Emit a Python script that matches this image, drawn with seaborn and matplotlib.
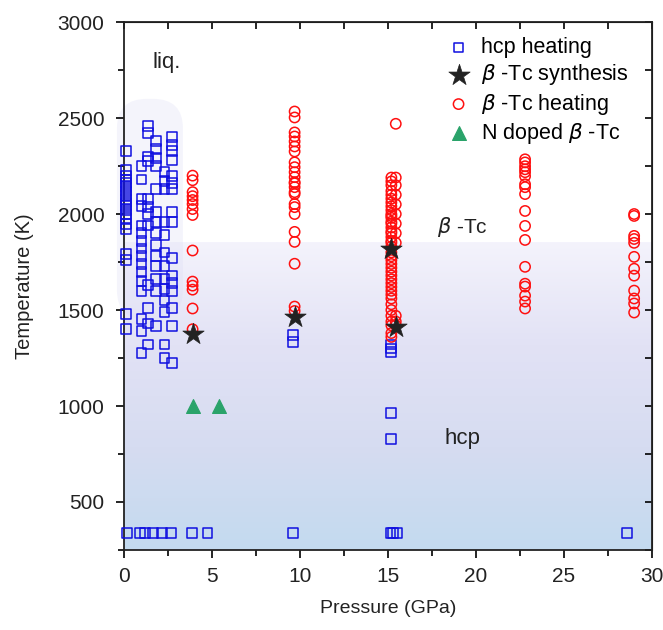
import numpy as np
import pandas as pd
import matplotlib
matplotlib.use("Agg")
import matplotlib.pyplot as plt
from matplotlib.colors import LinearSegmentedColormap
from matplotlib.patches import FancyBboxPatch
from matplotlib.ticker import MultipleLocator
import seaborn as sns

# hcp heating (blue open squares)
hcp_p = ([0.1] * 20 + [1.0] * 16 + [1.35] * 12 + [1.8] * 14 + [2.3] * 13 + [2.75] * 16
         + [9.6, 9.6, 15.2, 15.2, 15.2, 15.2, 15.2]
         + [0.15, 0.9, 1.2, 1.65, 2.15, 2.65, 3.85, 4.75, 9.6, 15.15, 15.3, 15.5, 28.6])
hcp_t = ([2330, 2230, 2200, 2180, 2160, 2140, 2120, 2100, 2080, 2060, 2040, 2020, 2000, 1980,
          1950, 1920, 1790, 1760, 1480, 1400]
         + [2250, 2180, 2080, 2040, 1940, 1900, 1860, 1820, 1780, 1740, 1700, 1650, 1600, 1455, 1390, 1275]
         + [2460, 2420, 2300, 2275, 2080, 2035, 2000, 1940, 1630, 1510, 1430, 1320]
         + [2380, 2340, 2290, 2250, 2130, 2010, 1960, 1900, 1840, 1780, 1730, 1660, 1600, 1415]
         + [2220, 2170, 2130, 1960, 1890, 1800, 1730, 1660, 1610, 1550, 1490, 1320, 1250]
         + [2400, 2360, 2330, 2280, 2200, 2160, 2130, 2010, 1960, 1770, 1680, 1640, 1600, 1510, 1415, 1225]
         + [1370, 1335, 1320, 1300, 1280, 965, 830]
         + [340] * 13)

# beta-Tc synthesis (black stars)
syn_p = [3.9, 9.7, 15.2, 15.45]
syn_t = [1375, 1465, 1820, 1410]

# beta-Tc heating (red open circles)
bt_p = ([3.9] * 14 + [9.7] * 24 + [15.2] * 41 + [15.45] * 12 + [22.8] * 18 + [29.0] * 12)
bt_t = ([2200, 2176, 2114, 2093, 2073, 2052, 2026, 1995, 1810, 1648, 1627, 1606, 1508, 1400]
        + [2534, 2503, 2425, 2404, 2378, 2352, 2326, 2269, 2244, 2218, 2192, 2166, 2140, 2114, 2104,
           2052, 2036, 2000, 1907, 1855, 1741, 1518, 1495, 2160]
        + [2190, 2170, 2150, 2120, 2100, 2080, 2060, 2040, 2020, 2000, 1990, 1980, 1960, 1950, 1930,
           1910, 1900, 1880, 1860, 1850, 1830, 1800, 1780, 1760, 1740, 1720, 1700, 1680, 1660, 1640,
           1620, 1600, 1580, 1560, 1530, 1500, 1470, 1440, 1420, 1380, 1360]
        + [2470, 2190, 2150, 2100, 2050, 2000, 1950, 1900, 1850, 1470, 1440, 1420]
        + [2285, 2269, 2249, 2233, 2218, 2197, 2155, 2140, 2104, 2016, 1938, 1865, 1725, 1637, 1622,
           1575, 1544, 1508]
        + [2000, 1990, 1886, 1870, 1850, 1777, 1715, 1679, 1601, 1560, 1534, 1487])

# N doped beta-Tc (green triangles)
nd_p = [3.9, 5.4]
nd_t = [1000, 1000]

plt.rcParams['font.family'] = ['Liberation Sans', 'DejaVu Sans']
plt.rcParams['mathtext.fontset'] = 'dejavusans'

fig = plt.figure(figsize=(6.63, 6.30), dpi=100)
ax = fig.add_axes([0.187, 0.127, 0.796, 0.838])

# background: white above 1850 K, gradient below
cmap = LinearSegmentedColormap.from_list('bg', ['#c3daef', '#d6dcf1', '#e2e2f5', '#f4f3fc'])
grad = np.linspace(0, 1, 256).reshape(-1, 1)
ax.imshow(grad, cmap=cmap, origin='lower', aspect='auto',
          extent=[0, 30, 250, 1850], zorder=0)

liq = FancyBboxPatch((-0.4, 1450), 3.75, 1150,
                     boxstyle="round,pad=0,rounding_size=1.7", mutation_aspect=90,
                     facecolor='#dcdcf5', edgecolor='none', alpha=0.3, zorder=1, clip_on=False)
ax.add_patch(liq)

df_hcp = pd.DataFrame({'P': hcp_p, 'T': hcp_t})
df_bt = pd.DataFrame({'P': bt_p, 'T': bt_t})
df_syn = pd.DataFrame({'P': syn_p, 'T': syn_t})
df_nd = pd.DataFrame({'P': nd_p, 'T': nd_t})

sns.scatterplot(data=df_hcp, x='P', y='T', ax=ax, marker='s', s=50, facecolor='none',
                edgecolor='#1010e0', linewidth=1.1, zorder=3, label='hcp heating', clip_on=False)
sns.scatterplot(data=df_syn, x='P', y='T', ax=ax, marker='*', s=260, color='#222222',
                edgecolor='#222222', linewidth=0.5, zorder=5, label=r'$\beta$ -Tc synthesis')
sns.scatterplot(data=df_bt, x='P', y='T', ax=ax, marker='o', s=55, facecolor='none',
                edgecolor='#ff1010', linewidth=1.1, zorder=4, label=r'$\beta$ -Tc heating')
sns.scatterplot(data=df_nd, x='P', y='T', ax=ax, marker='^', s=100, color='#2aa36a',
                edgecolor='#2aa36a', zorder=4, label=r'N doped $\beta$ -Tc')

ax.set_xlim(0, 30)
ax.set_ylim(250, 3000)
ax.xaxis.set_major_locator(MultipleLocator(5))
ax.xaxis.set_minor_locator(MultipleLocator(2.5))
ax.yaxis.set_major_locator(MultipleLocator(500))
ax.yaxis.set_minor_locator(MultipleLocator(250))
ax.tick_params(which='both', direction='out', labelsize=15, length=6, width=1.2,
               top=False, right=False, labelcolor='#222222')
ax.tick_params(axis='y', which='major', pad=8)
ax.tick_params(axis='x', which='major', pad=6)
ax.tick_params(which='minor', length=4)

# top and right axes with inward ticks
secx = ax.secondary_xaxis('top')
secx.set_xticks(np.arange(0, 30.1, 2.5))
secx.tick_params(direction='in', length=5, width=1.2, labeltop=False)
secy = ax.secondary_yaxis('right')
secy.set_yticks(np.arange(250, 3001, 250))
secy.tick_params(direction='in', length=5, width=1.2, labelright=False)

for sp in ax.spines.values():
    sp.set_linewidth(1.3)
    sp.set_color('#222222')

ax.set_xlabel('Pressure (GPa)', fontsize=14, labelpad=10, color='#222222')
ax.set_ylabel('Temperature (K)', fontsize=14.5, labelpad=17, color='#222222')

ax.text(1.6, 2790, 'liq.', fontsize=16, ha='left', va='center', color='#222222')
ax.text(17.8, 1930, r'$\beta$ -Tc', fontsize=15, ha='left', va='center', color='#222222')
ax.text(18.2, 830, 'hcp', fontsize=16, ha='left', va='center', color='#222222')

leg = ax.legend(loc='upper right', bbox_to_anchor=(0.985, 1.0), frameon=False, fontsize=15.5,
                handletextpad=0.25, labelspacing=0.2, borderaxespad=0.3, markerscale=1.0,
                handlelength=1.6)

fig.savefig('out.png', dpi=100)
